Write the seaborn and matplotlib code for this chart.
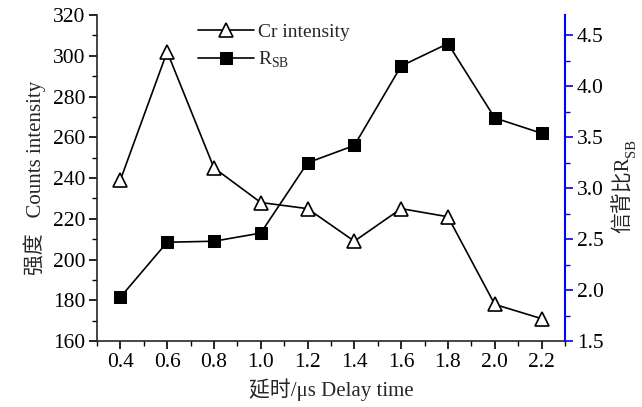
import matplotlib
matplotlib.use("Agg")
import matplotlib.pyplot as plt
import seaborn as sns
import pandas as pd
from matplotlib.ticker import MultipleLocator

delay = [0.4, 0.6, 0.8, 1.0, 1.2, 1.4, 1.6, 1.8, 2.0, 2.2]
cr_intensity = [239, 302, 245, 228, 225, 209, 225, 221, 178, 171]
r_sb = [1.93, 2.47, 2.48, 2.56, 3.25, 3.42, 4.20, 4.42, 3.69, 3.54]

sns.set_theme(style="ticks")
plt.rcParams['font.family'] = ['Liberation Serif', 'Noto Sans CJK SC']
plt.rcParams['mathtext.fontset'] = 'custom'
plt.rcParams['mathtext.rm'] = 'Liberation Serif'

df = pd.DataFrame({"delay": delay, "cr": cr_intensity, "rsb": r_sb})

fig = plt.figure(figsize=(6.42, 4.07), dpi=100)
ax = fig.add_axes([0.151, 0.162, 0.729, 0.801])
ax2 = ax.twinx()

sns.lineplot(data=df, x="delay", y="cr", ax=ax, color="black", lw=1.2,
             marker="^", markersize=9.5, markerfacecolor="white",
             markeredgecolor="black", markeredgewidth=1.2, label="Cr intensity", legend=False)
sns.lineplot(data=df, x="delay", y="rsb", ax=ax2, color="black", lw=1.2,
             marker="s", markersize=8, markerfacecolor="black",
             markeredgecolor="black", label="R$_{\\mathrm{SB}}$", legend=False)

ax.set_xlim(0.3, 2.3)
ax.set_ylim(160, 320)
ax2.set_ylim(1.5, 4.7)
ax.set_xticks(delay)
ax.set_xticklabels([f"{d:.1f}" for d in delay])
ax.xaxis.set_minor_locator(MultipleLocator(0.1))
ax.yaxis.set_major_locator(MultipleLocator(20))
ax.yaxis.set_minor_locator(MultipleLocator(10))
ax2.set_yticks([1.5, 2.0, 2.5, 3.0, 3.5, 4.0, 4.5])
ax2.yaxis.set_minor_locator(MultipleLocator(0.25))

for a in (ax, ax2):
    a.spines['top'].set_visible(False)
    a.grid(False)
ax.spines['right'].set_visible(False)
ax2.spines['left'].set_visible(False)
ax2.spines['bottom'].set_visible(False)
ax2.spines['right'].set_color('blue')
ax2.spines['right'].set_linewidth(1.5)
ax.spines['left'].set_linewidth(1.2)
ax.spines['bottom'].set_linewidth(1.2)

ax.tick_params(axis='both', which='major', direction='out', length=6, width=1.2,
               labelsize=15.5, colors='black', pad=2.5)
ax.tick_params(axis='both', which='minor', direction='out', length=3.5, width=1.0, colors='black')
ax2.tick_params(axis='y', which='major', direction='out', length=6, width=1.2,
                labelsize=15.5, color='blue', labelcolor='black', pad=2.5)
ax2.tick_params(axis='y', which='minor', direction='out', length=3.5, width=1.0, color='blue')

ax.set_xlabel("延时/μs Delay time", fontsize=15, labelpad=5)
ax.set_ylabel("强度   Counts intensity", fontsize=15, labelpad=5)
ax2.set_ylabel("信背比R", fontsize=15)
ax2.yaxis.set_label_coords(1.105, 0.45)

h1, l1 = ax.get_legend_handles_labels()
h2, l2 = ax2.get_legend_handles_labels()
ax.legend(h1 + h2, l1 + l2, loc='upper left', bbox_to_anchor=(0.19, 1.01),
          frameon=False, fontsize=14, handlelength=2.9, handletextpad=0.2,
          labelspacing=0.45, borderaxespad=0.2)

# subscript "SB" on the rotated right-axis label
fig.canvas.draw()
renderer = fig.canvas.get_renderer()
bb = ax2.yaxis.label.get_window_extent(renderer)
inv = fig.transFigure.inverted()
x1, y1 = inv.transform((bb.x1 + 4, bb.y1 - 1))
fig.text(x1, y1, "SB", rotation=90, fontsize=10.5, ha='right', va='bottom')

fig.savefig("out.png", dpi=100)
